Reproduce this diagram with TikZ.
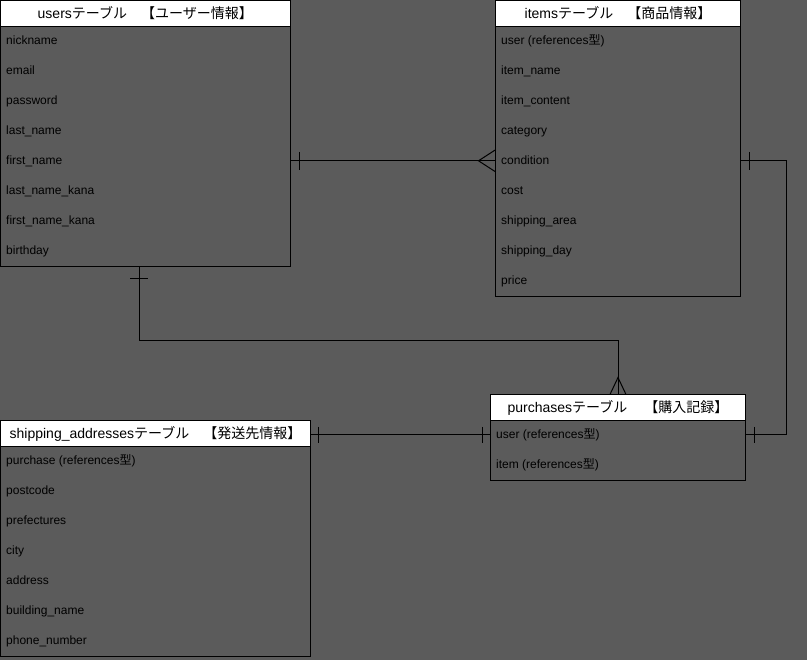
\documentclass[tikz,border=0pt]{standalone}
\usepackage{fontspec}
\setmainfont{Liberation Sans}
\newfontfamily\jp{Noto Sans CJK JP}
\definecolor{canvas}{RGB}{91,91,91}
\tikzset{
  tblhead/.style={draw=black, fill=white, line width=1pt, inner sep=0pt, outer sep=0pt, minimum height=26pt, anchor=north west, font=\fontsize{14}{16}\selectfont, text height=11.5pt, text depth=2pt},
  tblbody/.style={draw=black, line width=1pt, inner sep=0pt, outer sep=0pt, anchor=north west},
  field/.style={anchor=west, inner sep=0pt, font=\fontsize{12}{14}\selectfont, text height=10pt, text depth=2pt},
  rel/.style={line width=1pt, black},
}
\begin{document}
\begin{tikzpicture}[x=1pt, y=-1pt]
        \fill[canvas] (0,0) rectangle (807,660);
        \useasboundingbox (0,0) rectangle (807,660);
        % users
        \node[tblhead, minimum width=289.5pt] (usershead) at (0.5,0.5) {users{\jp テーブル　【ユーザー情報】}};
        \node[tblbody, minimum width=289.5pt, minimum height=240pt] (usersbody) at (usershead.south west) {};
        \foreach \f [count=\i] in {nickname, email, password, last\_name, first\_name, last\_name\_kana, first\_name\_kana, birthday}
            \node[field] (u\i) at (6,10.8+30*\i) {\f};
        % items
        \node[tblhead, minimum width=245pt] (itemshead) at (495.5,0.5) {items{\jp テーブル　【商品情報】}};
        \node[tblbody, minimum width=245pt, minimum height=270pt] (itemsbody) at (itemshead.south west) {};
        \foreach \f [count=\i] in {{user (references{\jp 型})}, item\_name, item\_content, category, condition, cost, shipping\_area, shipping\_day, price}
            \node[field] (i\i) at (501,10.8+30*\i) {\f};
        % purchases
        \node[tblhead, minimum width=255pt] (purchhead) at (490.5,394.5) {purchases{\jp テーブル　 【購入記録】}};
        \node[tblbody, minimum width=255pt, minimum height=60pt] (purchbody) at (purchhead.south west) {};
        \foreach \f [count=\i] in {{user (references{\jp 型})}, {item (references{\jp 型})}}
            \node[field] (p\i) at (496,404.8+30*\i) {\f};
        % shipping_addresses
        \node[tblhead, minimum width=310pt] (shiphead) at (0.5,420.5) {shipping\_addresses{\jp テーブル　【発送先情報】}};
        \node[tblbody, minimum width=310pt, minimum height=210pt] (shipbody) at (shiphead.south west) {};
        \foreach \f [count=\i] in {{purchase (references{\jp 型})}, postcode, prefectures, city, address, building\_name, phone\_number}
            \node[field] (s\i) at (6,430.8+30*\i) {\f};
        % users -- items
        \coordinate (ua) at (usersbody.east |- u5);
        \coordinate (ib) at (itemsbody.west |- i5);
        \draw[rel] (ua) -- (ib);
        \draw[rel] ([xshift=9pt,yshift=9pt]ua) -- ([xshift=9pt,yshift=-9pt]ua);
        \draw[rel] ([yshift=11pt]ib) -- ([xshift=-17pt]ib) -- ([yshift=-11pt]ib);
        % users -- purchases
        \coordinate (us) at ([xshift=-6pt]usersbody.south);
        \coordinate (pt) at (purchhead.north);
        \draw[rel] (us) |- ([yshift=54pt]pt) -- (pt);
        \draw[rel] ([xshift=-9pt,yshift=-12pt]us) -- ([xshift=9pt,yshift=-12pt]us);
        \draw[rel] ([xshift=-8pt]pt) -- ([yshift=17pt]pt) -- ([xshift=8pt]pt);
        % items -- purchases
        \coordinate (ic) at (itemsbody.east |- i5);
        \coordinate (pc) at (purchbody.east |- p1);
        \draw[rel] (ic) -| ([xshift=41pt]pc) -- (pc);
        \draw[rel] ([xshift=9pt,yshift=9pt]ic) -- ([xshift=9pt,yshift=-9pt]ic);
        \draw[rel] ([xshift=9pt,yshift=8pt]pc) -- ([xshift=9pt,yshift=-8pt]pc);
        % shipping_addresses -- purchases
        \coordinate (sa) at (shiphead.east |- p1);
        \coordinate (pd) at (purchbody.west |- p1);
        \draw[rel] (sa) -- (pd);
        \draw[rel] ([xshift=8pt,yshift=8pt]sa) -- ([xshift=8pt,yshift=-8pt]sa);
        \draw[rel] ([xshift=-8pt,yshift=8pt]pd) -- ([xshift=-8pt,yshift=-8pt]pd);
\end{tikzpicture}
\end{document}
